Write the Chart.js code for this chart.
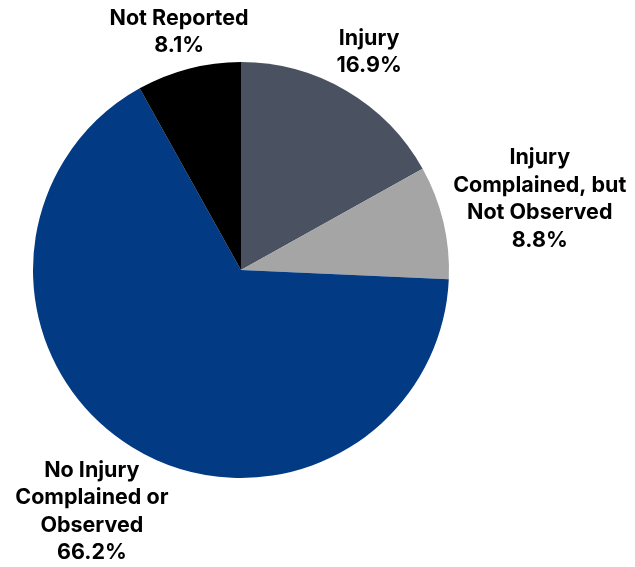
<!DOCTYPE html>
<html>
<head>
<meta charset="utf-8">
<script src="https://cdn.jsdelivr.net/npm/chart.js@4"></script>
<style>
  html, body { margin: 0; padding: 0; background: #ffffff; }
  #wrap { width: 635px; height: 567px; position: relative; }
</style>
</head>
<body>
<div id="wrap"><canvas id="c" width="635" height="567"></canvas></div>
<script>
// ---- data ----
const categories = [
  ['Injury'],
  ['Injury', 'Complained, but', 'Not Observed'],
  ['No Injury', 'Complained or', 'Observed'],
  ['Not Reported']
];
const values = [16.9, 8.8, 66.2, 8.1];
const sliceColors = ['#4A5262', '#A5A5A5', '#023A84', '#000000'];
// ---- label placement (extra radial distance beyond pie edge, px) ----
const labelExtra = [45, 99, 76, 38];

const labelPlugin = {
  id: 'outsideLabels',
  afterDatasetsDraw(chart) {
    const ctx = chart.ctx;
    const meta = chart.getDatasetMeta(0);
    ctx.save();
    ctx.font = 'bold 21.5px Inter';
    ctx.fillStyle = '#000000';
    ctx.textAlign = 'center';
    ctx.textBaseline = 'middle';
    const lh = 27.5;
    meta.data.forEach((arc, i) => {
      const p = arc.getProps(['x', 'y', 'startAngle', 'endAngle', 'outerRadius'], true);
      const mid = (p.startAngle + p.endAngle) / 2;
      const d = p.outerRadius + labelExtra[i];
      const cx = p.x + Math.cos(mid) * d;
      const cy = p.y + Math.sin(mid) * d;
      const lines = categories[i].concat([values[i].toFixed(1) + '%']);
      const top = cy - (lines.length - 1) * lh / 2;
      lines.forEach((ln, k) => ctx.fillText(ln, cx, top + k * lh));
    });
    ctx.restore();
  }
};

new Chart(document.getElementById('c'), {
  type: 'pie',
  data: {
    labels: categories.map(c => c.join(' ')),
    datasets: [{
      data: values,
      backgroundColor: sliceColors,
      borderWidth: 0
    }]
  },
  options: {
    responsive: false,
    animation: false,
    layout: { padding: { left: 33, right: 186, top: 62, bottom: 89 } },
    plugins: {
      legend: { display: false },
      tooltip: { enabled: false }
    }
  },
  plugins: [labelPlugin]
});
</script>
</body>
</html>
